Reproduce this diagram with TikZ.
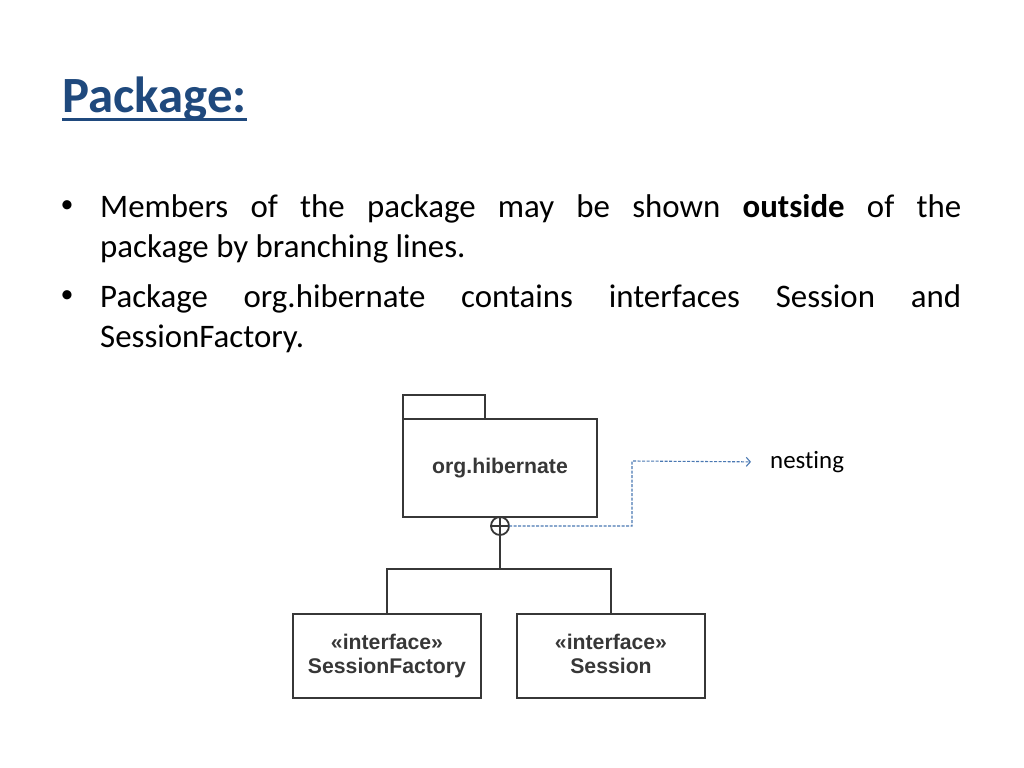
\documentclass[tikz,border=0pt]{standalone}
\usepackage{fontspec}
\setmainfont{Carlito}[Ligatures=NoCommon]
\newfontfamily\umlfont{Liberation Sans}
\usetikzlibrary{arrows.meta,positioning}
\definecolor{TitleBlue}{RGB}{31,73,125}
\definecolor{UmlGray}{RGB}{55,55,55}
\definecolor{NestBlue}{RGB}{74,120,178}
\tikzset{
  slidetitle/.style={anchor=base west,inner sep=0pt,text=TitleBlue,
    font=\fontsize{51}{60}\selectfont\bfseries},
  bullettext/.style={anchor=north west,inner sep=0pt,text width=861bp,
    align=justify,font=\fontsize{33}{40.5}\selectfont},
  bulletmark/.style={inner sep=0pt,font=\fontsize{26}{30}\selectfont},
  umlbox/.style={draw=UmlGray,line width=1.8bp,minimum width=188bp,
    minimum height=84bp,inner sep=0pt,outer sep=0pt,align=center,text=UmlGray,
    font=\umlfont\bfseries\fontsize{21.3}{25}\selectfont},
  umlline/.style={draw=UmlGray,line width=1.8bp},
  nestline/.style={-{Straight Barb[length=4bp,width=9bp]},NestBlue,
    line width=1.1bp,dash pattern=on 3bp off 1.5bp}
}
\begin{document}
\begin{tikzpicture}[x=1bp,y=-1bp]
  \useasboundingbox (0,0) rectangle (1024,768);
  % title
  \node[slidetitle] (title) at (62,112) {Package:};
  \draw[TitleBlue,line width=2.5bp]
    ([yshift=-7.5bp]title.base west) -- ([yshift=-7.5bp]title.base east);
  % bullets
  \node[bulletmark] (dotA) at (67,207) {•};
  \node[bullettext] (itemA) at (100,194)
    {Members of the package may be shown \textbf{outside} of the\linebreak
     package by branching lines.};
  \node[bulletmark] (dotB) at (67,297) {•};
  \node[bullettext] (itemB) at (100,284)
    {Package org.hibernate contains interfaces Session and\linebreak
     SessionFactory.};
  % package with members
  \node[umlbox,minimum width=194bp,minimum height=98bp] (pkg) at (500,468)
    {org.hibernate};
  \node[umlbox,minimum width=82bp,minimum height=24bp,anchor=south west]
    (tab) at (pkg.north west) {};
  \node[circle,umlline,fill=white,minimum size=18bp,inner sep=0pt,outer sep=0pt]
    (plus) at (500,526) {};
  \draw[umlline,line width=1.5bp] (plus.north) -- (plus.south)
    (plus.west) -- (plus.east);
  \coordinate (fork) at (500,569);
  \node[umlbox] (sfactory) at (387,656) {«interface»\\SessionFactory};
  \node[umlbox] (session) at (611,656) {«interface»\\Session\vphantom{y}};
  \draw[umlline] (plus.south) -- (fork);
  \draw[umlline] (sfactory.north) |- (fork) -| (session.north);
  % nesting note
  \node[anchor=west,inner sep=0pt,font=\fontsize{25}{30}\selectfont]
    (nesting) at (770,462) {nesting};
  \coordinate (bend) at (632,461);
  \draw[nestline,shorten >=19bp] (plus.east) -| (bend) -- (nesting.west);
\end{tikzpicture}
\end{document}
